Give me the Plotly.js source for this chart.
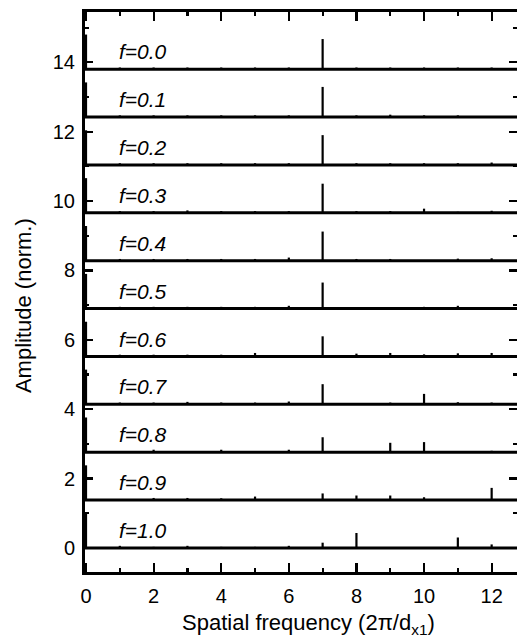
<!DOCTYPE html>
<html>
<head>
<meta charset="utf-8">
<script src="https://cdn.plot.ly/plotly-3.0.1.min.js"></script>
<style>
html, body { margin: 0; padding: 0; overflow: hidden; background: #fff; }
#chart { width: 521px; height: 637px; }
</style>
</head>
<body>
<div id="chart"></div>
<script>
// Spatial frequency positions (units of 2π/d_x1)
const freqs = [0, 1, 2, 3, 4, 5, 6, 7, 8, 9, 10, 11, 12];

// Curve labels (fill fraction f)
const labels = ['f=0.0', 'f=0.1', 'f=0.2', 'f=0.3', 'f=0.4', 'f=0.5',
                'f=0.6', 'f=0.7', 'f=0.8', 'f=0.9', 'f=1.0'];

// Vertical offsets of each stacked spectrum
const offsets = [13.8, 12.42, 11.04, 9.66, 8.28, 6.9, 5.52, 4.14, 2.76, 1.38, 0];

// Normalized amplitudes at each spatial frequency
const amp_f00 = [1.00, 0.05, 0.05, 0.05, 0.05, 0.05, 0.05, 0.87, 0.05, 0.05, 0.05, 0.05, 0.05];
const amp_f01 = [1.00, 0.05, 0.05, 0.05, 0.05, 0.05, 0.05, 0.87, 0.05, 0.07, 0.05, 0.05, 0.02];
const amp_f02 = [1.00, 0.05, 0.05, 0.05, 0.05, 0.05, 0.05, 0.86, 0.05, 0.05, 0.05, 0.05, 0.07];
const amp_f03 = [1.00, 0.05, 0.05, 0.07, 0.05, 0.05, 0.05, 0.84, 0.05, 0.05, 0.12, 0.03, 0.06];
const amp_f04 = [1.00, 0.05, 0.05, 0.05, 0.05, 0.05, 0.09, 0.84, 0.05, 0.05, 0.02, 0.06, 0.07];
const amp_f05 = [1.00, 0.05, 0.05, 0.05, 0.05, 0.05, 0.08, 0.75, 0.04, 0.04, 0.05, 0.08, 0.04];
const amp_f06 = [1.00, 0.05, 0.05, 0.05, 0.05, 0.10, 0.04, 0.58, 0.08, 0.10, 0.06, 0.09, 0.10];
const amp_f07 = [1.00, 0.05, 0.05, 0.07, 0.05, 0.05, 0.08, 0.58, 0.02, 0.05, 0.30, 0.06, 0.05];
const amp_f08 = [1.00, 0.03, 0.07, 0.03, 0.07, 0.03, 0.07, 0.43, 0.03, 0.27, 0.29, 0.02, 0.04];
const amp_f09 = [1.00, 0.03, 0.06, 0.06, 0.05, 0.10, 0.03, 0.19, 0.13, 0.13, 0.08, 0.02, 0.35];
const amp_f10 = [1.00, 0.06, 0.03, 0.06, 0.03, 0.03, 0.06, 0.15, 0.43, 0.02, 0.02, 0.30, 0.10];

const spectra = [amp_f00, amp_f01, amp_f02, amp_f03, amp_f04, amp_f05,
                 amp_f06, amp_f07, amp_f08, amp_f09, amp_f10];

const xRange = [-0.03, 12.75];
const yRange = [-0.695, 15.45];
const FONT = 'Liberation Sans, Arial, Helvetica, sans-serif';

const traces = [];
const annotations = [];

spectra.forEach((amps, i) => {
  const base = offsets[i];
  // baseline
  traces.push({
    type: 'scatter', mode: 'lines',
    x: [xRange[0], xRange[1]], y: [base, base],
    line: { color: '#000', width: 3 },
    hoverinfo: 'skip', showlegend: false
  });
  // spikes
  const sx = [], sy = [];
  freqs.forEach((fx, k) => {
    sx.push(fx, fx, null);
    sy.push(base, base + amps[k], null);
  });
  traces.push({
    type: 'scatter', mode: 'lines',
    x: sx, y: sy,
    line: { color: '#000', width: 2.2 },
    connectgaps: false,
    hoverinfo: 'skip', showlegend: false
  });
  annotations.push({
    x: 0.93, y: base + 0.5, xref: 'x', yref: 'y',
    text: labels[i], showarrow: false,
    xanchor: 'left', yanchor: 'middle',
    font: { family: FONT, size: 21, color: '#000', style: 'italic' }
  });
});

// Axis titles
annotations.push({
  x: -0.142, y: 0.476, xref: 'paper', yref: 'paper',
  text: 'Amplitude (norm.)', textangle: -90, showarrow: false,
  xanchor: 'center', yanchor: 'middle',
  font: { family: FONT, size: 22, color: '#000' }
});
annotations.push({
  x: 0.517, y: -0.093, xref: 'paper', yref: 'paper',
  text: 'Spatial frequency (2π/d<sub>x1</sub>)', showarrow: false,
  xanchor: 'center', yanchor: 'middle',
  font: { family: FONT, size: 22, color: '#000' }
});

const axisCommon = {
  showgrid: false, zeroline: false,
  showline: true, linecolor: '#000', linewidth: 3,
  mirror: 'ticks',
  ticks: 'inside', tickcolor: '#000', tickwidth: 2.2,
  tickfont: { family: FONT, size: 20, color: '#000' }
};

const layout = {
  width: 521, height: 637,
  margin: { l: 84.5, r: 3.5, t: 12.2, b: 65.2, pad: 0 },
  paper_bgcolor: '#fff', plot_bgcolor: '#fff',
  showlegend: false,
  xaxis: Object.assign({}, axisCommon, {
    range: xRange, dtick: 2, tick0: 0, ticklen: 9,
    ticklabelstandoff: 4,
    minor: { dtick: 1, tick0: 0, ticklen: 4, ticks: 'inside', tickcolor: '#000', tickwidth: 2.2, showgrid: false }
  }),
  yaxis: Object.assign({}, axisCommon, {
    range: yRange, dtick: 2, tick0: 0, ticklen: 8,
    ticklabelstandoff: 3,
    minor: { dtick: 1, tick0: 0, ticklen: 4, ticks: 'inside', tickcolor: '#000', tickwidth: 2.2, showgrid: false }
  }),
  annotations: annotations
};

Plotly.newPlot('chart', traces, layout, { displayModeBar: false, staticPlot: true });
</script>
</body>
</html>
